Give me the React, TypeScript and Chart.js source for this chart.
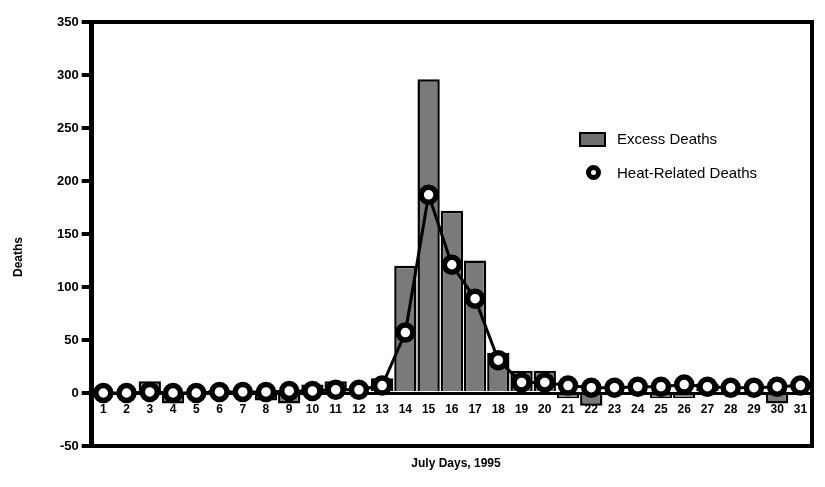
import React, { useEffect, useRef } from "react";
import { Chart, registerables } from "chart.js";

Chart.register(...registerables);

const days = ["1","2","3","4","5","6","7","8","9","10","11","12","13","14","15","16","17","18","19","20","21","22","23","24","25","26","27","28","29","30","31"];
const excessDeaths = [0, 0, 11, -10, 0, 3, 0, -7, -10, 8, 11, 0, 14, 120, 296, 172, 125, 38, 21, 21, -5, -12, 0, 0, -5, -5, 9, 0, 0, -10, 0];
const heatRelatedDeaths = [0, 0, 1, 0, 0, 1, 1, 1, 2, 2, 3, 3, 7, 57, 187, 121, 89, 31, 10, 10, 7, 5, 5, 6, 6, 8, 6, 5, 5, 6, 7];
const yTicks = [-50, 0, 50, 100, 150, 200, 250, 300, 350];

const FONT = "'Liberation Sans', Arial, Helvetica, sans-serif";

const framePlugin = {
  id: "frame",
  afterDraw(chart: any) {
    const { ctx, chartArea: a } = chart;
    ctx.save();
    ctx.strokeStyle = "#000";
    ctx.lineWidth = 4;
    ctx.lineCap = "square";
    ctx.beginPath();
    ctx.moveTo(a.left, a.top);
    ctx.lineTo(a.right, a.top);
    ctx.lineTo(a.right, a.bottom);
    ctx.lineTo(a.left, a.bottom);
    ctx.stroke();
    ctx.restore();
  },
};

export default function App() {
  const ref = useRef<HTMLCanvasElement | null>(null);

  useEffect(() => {
    document.body.style.margin = "0";
    const canvas = ref.current;
    if (!canvas) return;
    const chart = new Chart(canvas, {
      type: "bar",
      data: {
        labels: days,
        datasets: [
          {
            type: "line",
            label: "Heat-Related Deaths",
            data: heatRelatedDeaths,
            order: 0,
            borderColor: "#000",
            borderWidth: 3,
            backgroundColor: "#fff",
            pointRadius: 7.5,
            pointBorderWidth: 5.5,
            pointBorderColor: "#000",
            pointBackgroundColor: "#fff",
            tension: 0,
            clip: false,
          } as any,
          {
            type: "bar",
            label: "Excess Deaths",
            data: excessDeaths,
            order: 1,
            backgroundColor: "#7a7a7a",
            borderColor: "#000",
            borderWidth: 2.5,
            barPercentage: 1,
            categoryPercentage: 0.96,
          } as any,
        ],
      },
      options: {
        responsive: false,
        animation: false,
        layout: { padding: { left: 54, right: 7, top: 22, bottom: 41 } },
        plugins: {
          legend: { display: false },
          tooltip: { enabled: false },
          title: { display: false },
        },
        scales: {
          x: {
            type: "category",
            position: { y: 0 } as any,
            grid: { display: false },
            border: { display: true, color: "#000", width: 3 },
            ticks: {
              color: "#000",
              font: { family: FONT, size: 12, weight: "bold" },
              padding: 1,
              maxRotation: 0,
              autoSkip: false,
            },
          },
          y: {
            min: -50,
            max: 350,
            afterBuildTicks: (s: any) => {
              s.ticks = yTicks.map((v) => ({ value: v }));
            },
            grid: {
              display: true,
              drawOnChartArea: false,
              drawTicks: true,
              tickLength: 10,
              lineWidth: 4,
              color: "#000",
            },
            border: { display: true, color: "#000", width: 5 },
            ticks: {
              color: "#000",
              font: { family: FONT, size: 13, weight: "bold" },
              padding: 3,
            },
          },
        },
      },
      plugins: [framePlugin],
    });
    return () => chart.destroy();
  }, []);

  return (
    <div style={{ position: "relative", width: 825, height: 487, background: "#fff", fontFamily: FONT }}>
      <canvas ref={ref} width={825} height={487} style={{ display: "block" }} />
      <div
        style={{
          position: "absolute",
          left: 18,
          top: 257,
          transform: "translate(-50%, -50%) rotate(-90deg)",
          fontSize: 12,
          fontWeight: "bold",
          color: "#000",
          whiteSpace: "nowrap",
        }}
      >
        Deaths
      </div>
      <div
        style={{
          position: "absolute",
          left: 456,
          top: 463,
          transform: "translate(-50%, -50%)",
          fontSize: 12,
          fontWeight: "bold",
          color: "#000",
          whiteSpace: "nowrap",
        }}
      >
        July Days, 1995
      </div>
      <div
        style={{
          position: "absolute",
          left: 579,
          top: 132,
          width: 27,
          height: 15,
          boxSizing: "border-box",
          background: "#6f6f6f",
          border: "2px solid #000",
        }}
      />
      <div
        style={{
          position: "absolute",
          left: 617,
          top: 138,
          transform: "translateY(-50%)",
          fontSize: 15,
          color: "#000",
          whiteSpace: "nowrap",
        }}
      >
        Excess Deaths
      </div>
      <div
        style={{
          position: "absolute",
          left: 586,
          top: 165,
          width: 15,
          height: 15,
          boxSizing: "border-box",
          borderRadius: "50%",
          background: "#fff",
          border: "5px solid #000",
        }}
      />
      <div
        style={{
          position: "absolute",
          left: 617,
          top: 172,
          transform: "translateY(-50%)",
          fontSize: 15,
          color: "#000",
          whiteSpace: "nowrap",
        }}
      >
        Heat-Related Deaths
      </div>
    </div>
  );
}
